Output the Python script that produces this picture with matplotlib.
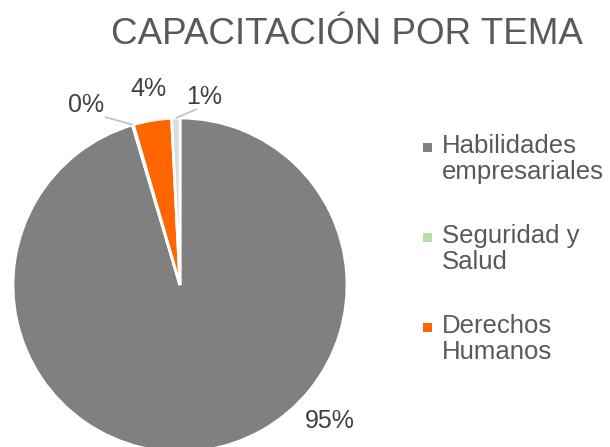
import numpy as np
import matplotlib
matplotlib.use("Agg")
import matplotlib.pyplot as plt

plt.rcParams['font.family'] = ['Liberation Sans', 'DejaVu Sans']

# ---- data ----
title = "CAPACITACIÓN POR TEMA"
categories = ["Habilidades empresariales", "Seguridad y Salud", "Derechos Humanos", "Otros"]
legend_lines = [["Habilidades", "empresariales"], ["Seguridad y", "Salud"], ["Derechos", "Humanos"]]
values = [95.4, 0.1, 3.7, 0.8]
pct_labels = ["95%", "0%", "4%", "1%"]

# ---- style ----
colors = ["#808080", "#B3E0A6", "#FF6600", "#DCDCDC"]
W, H = 610, 447
cx, cy, R = 180, H - 285, 167

fig = plt.figure(figsize=(W / 100, H / 100), dpi=100)
ax = fig.add_axes([0, 0, 1, 1])
wedges, _ = ax.pie(values, colors=colors, startangle=90, counterclock=False,
                   radius=R, center=(cx, cy),
                   wedgeprops=dict(edgecolor="white", linewidth=2))
ax.set_xlim(0, W)
ax.set_ylim(0, H)
ax.set_aspect("equal")
ax.axis("off")

# percentage labels (positions in pixel coords, top-left origin)
label_pos = [(330, 421), (86, 105), (148, 89), (204, 97)]
leader_start = [None, (105, 117), None, (197, 109)]
cum = np.cumsum(values)
for i, lab in enumerate(pct_labels):
    px, py = label_pos[i]
    ax.text(px, H - py, lab, ha="center", va="center", fontsize=18, color="#404040")
    if leader_start[i] is not None:
        mid = (cum[i] - values[i] / 2) / sum(values) * 2 * np.pi
        ex = cx + R * np.sin(mid)
        ey = cy + R * np.cos(mid)
        sx, sy = leader_start[i]
        ax.plot([sx, ex], [H - sy, ey], color="#BFBFBF", lw=1.2, solid_capstyle="butt")

# title
ax.text(347, H - 44, title, ha="center", va="baseline", fontsize=26.5, color="#595959")

# legend
for i, lines in enumerate(legend_lines):
    base = 153 + 90 * i
    ax.add_patch(plt.Rectangle((423, H - (base - 1)), 9, 9, color=colors[i], lw=0))
    for j, t in enumerate(lines):
        ax.text(442, H - (base + 26 * j), t, ha="left", va="baseline",
                fontsize=18.5, color="#595959")

fig.savefig("out.png", dpi=100)
